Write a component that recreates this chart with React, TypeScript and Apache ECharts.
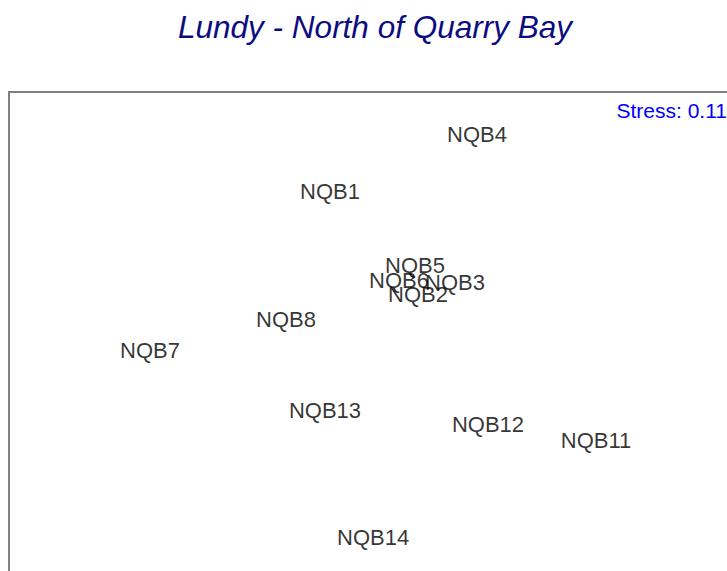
import React, { useEffect, useRef } from "react";
import * as echarts from "echarts";

const sampleNames = ["NQB1", "NQB2", "NQB3", "NQB4", "NQB5", "NQB6", "NQB7", "NQB8", "NQB11", "NQB12", "NQB13", "NQB14"];
const xValues = [-0.265, 0.211, 0.411, 0.53, 0.195, 0.108, -1.238, -0.503, 1.173, 0.589, -0.292, -0.032];
const yValues = [0.906, 0.288, 0.36, 1.248, 0.462, 0.372, -0.048, 0.138, -0.588, -0.492, -0.408, -1.17];
const titleText = "Lundy - North of Quarry Bay";
const stressText = "Stress: 0.11";

export default function App() {
  const ref = useRef<HTMLDivElement>(null);
  useEffect(() => {
    document.body.style.margin = "0";
    document.body.style.overflow = "hidden";
    document.documentElement.style.overflow = "hidden";
    if (!ref.current) return;
    const chart = echarts.init(ref.current, undefined, { renderer: "svg" });
    const data = sampleNames.map((n, i) => ({ name: n, value: [xValues[i], yValues[i]] }));
    chart.setOption({
      animation: false,
      backgroundColor: "#ffffff",
      title: {
        text: titleText,
        left: "center",
        top: 6,
        textStyle: {
          fontSize: 31.5,
          fontStyle: "italic",
          fontWeight: "normal",
          color: "#0c0c80",
          fontFamily: "Liberation Sans, Arial, sans-serif",
        },
      },
      grid: {
        show: true,
        left: 9,
        top: 92,
        width: 740,
        height: 500,
        borderColor: "#808080",
        borderWidth: 2,
        backgroundColor: "transparent",
      },
      xAxis: { type: "value", min: -2, max: 2, show: false },
      yAxis: { type: "value", min: -1.5, max: 1.5, show: false },
      graphic: [
        {
          type: "text",
          x: 727,
          y: 110,
          style: {
            text: stressText,
            textAlign: "right",
            textVerticalAlign: "middle",
            fontSize: 21,
            fill: "#0000ff",
            fontFamily: "Liberation Sans, Arial, sans-serif",
          },
        },
      ],
      series: [
        {
          type: "scatter",
          data,
          symbolSize: 1,
          itemStyle: { color: "transparent" },
          label: {
            show: true,
            position: "inside",
            formatter: "{b}",
            fontSize: 22,
            color: "#000000",
            fontFamily: "Liberation Sans, Arial, sans-serif",
          },
        },
      ],
    });
    return () => chart.dispose();
  }, []);
  return <div ref={ref} style={{ width: 750, height: 600 }} />;
}
